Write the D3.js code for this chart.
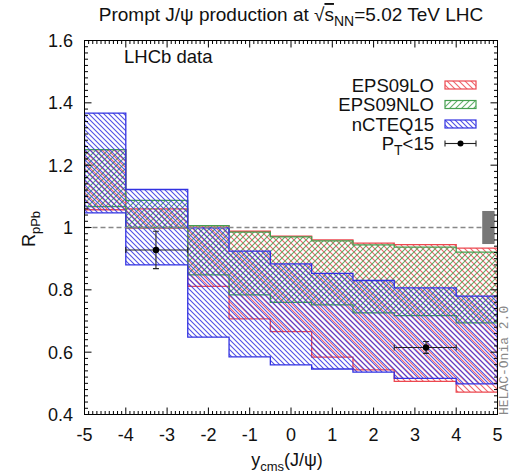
<!DOCTYPE html>
<html><head><meta charset="utf-8">
<script src="https://cdn.jsdelivr.net/npm/d3@7"></script>
<style>
body{margin:0;background:#fff;}
text{font-family:"Liberation Sans",Arial,sans-serif;fill:#111;}
</style></head>
<body><svg id="c" width="510" height="475"></svg>
<script>
// ---- data ----
const binEdges = [-5, -4, -2.5, -1.5, -0.5, 0.5, 1.5, 2.5, 4, 5];
const eps09loHigh  = [1.250, 1.060, 1.005, 0.988, 0.972, 0.960, 0.950, 0.945, 0.934];
const eps09loLow   = [1.057, 0.998, 0.811, 0.707, 0.666, 0.584, 0.543, 0.506, 0.472];
const eps09nloHigh = [1.250, 1.087, 1.006, 0.985, 0.970, 0.957, 0.944, 0.937, 0.921];
const eps09nloLow  = [1.067, 1.000, 0.848, 0.784, 0.760, 0.752, 0.726, 0.717, 0.694];
const ncteqHigh    = [1.367, 1.122, 0.999, 0.924, 0.883, 0.853, 0.830, 0.806, 0.780];
const ncteqLow     = [1.047, 0.880, 0.648, 0.585, 0.559, 0.546, 0.536, 0.516, 0.498];
const dataX   = [-3.27, 3.27];
const dataY   = [0.928, 0.615];
const dataErr = [0.060, 0.019];
const dataXlo = [-4, 2.5];
const dataXhi = [-2.5, 4];
const globalBoxX = [4.63, 4.93];
const globalBoxY = [0.947, 1.053];
const xTicks = [-5, -4, -3, -2, -1, 0, 1, 2, 3, 4, 5];
const yTicks = [0.4, 0.6, 0.8, 1.0, 1.2, 1.4, 1.6];
const seriesNames = ["EPS09LO", "EPS09NLO", "nCTEQ15"];

// ---- layout ----
const L = 84.5, R = 497.5, T = 40.5, B = 414.5;
const svg = d3.select("#c");
const x = d3.scaleLinear().domain([-5, 5]).range([L, R]);
const y = d3.scaleLinear().domain([0.4, 1.6]).range([B, T]);

const cols = {red: "rgb(236,72,80)", green: "rgb(70,160,80)", blue: "rgb(50,50,225)"};

// hatch patterns
const defs = svg.append("defs");
function hatch(id, color, w, dir, sw) {
  const p = defs.append("pattern").attr("id", id).attr("patternUnits", "userSpaceOnUse")
    .attr("width", w).attr("height", w);
  let d;
  if (dir === "back") d = `M-1,-1L${w+1},${w+1}M${w-1},-1L${w+1},1M-1,${w-1}L1,${w+1}`;
  else d = `M-1,${w+1}L${w+1},-1M-1,1L1,-1M${w-1},${w+1}L${w+1},${w-1}`;
  p.append("path").attr("d", d).attr("stroke", color).attr("stroke-width", sw).attr("opacity", 0.85);
}
hatch("hRed", cols.red, 6, "back", 1.1);
hatch("hGreen", cols.green, 6, "fwd", 1.1);
hatch("hBlue", cols.blue, 5, "back", 1.1);

const clip = defs.append("clipPath").attr("id", "plotclip");
clip.append("rect").attr("x", L).attr("y", T).attr("width", R - L).attr("height", B - T);

function stepPts(hi, lo) {
  const pts = [];
  hi.forEach((v, i) => { pts.push({x: binEdges[i], hi: v, lo: lo[i]}); pts.push({x: binEdges[i+1], hi: v, lo: lo[i]}); });
  return pts;
}
const area = d3.area().x(d => x(d.x)).y0(d => y(d.lo)).y1(d => y(d.hi));
const g = svg.append("g").attr("clip-path", "url(#plotclip)");

const bands = [
  {hi: eps09loHigh, lo: eps09loLow, fill: "url(#hRed)", col: cols.red},
  {hi: eps09nloHigh, lo: eps09nloLow, fill: "url(#hGreen)", col: cols.green},
  {hi: ncteqHigh, lo: ncteqLow, fill: "url(#hBlue)", col: cols.blue}
];
bands.forEach(b => {
  g.append("path").datum(stepPts(b.hi, b.lo)).attr("d", area)
    .attr("fill", b.fill).attr("stroke", b.col).attr("stroke-width", 1.3);
});

// dashed line at 1
g.append("line").attr("x1", x(-5)).attr("x2", x(5)).attr("y1", y(1)).attr("y2", y(1))
  .attr("stroke", "#888").attr("stroke-width", 1.3).attr("stroke-dasharray", "5,3");

// global uncertainty box
g.append("rect").attr("x", x(globalBoxX[0])).attr("width", x(globalBoxX[1]) - x(globalBoxX[0]))
  .attr("y", y(globalBoxY[1])).attr("height", y(globalBoxY[0]) - y(globalBoxY[1]))
  .attr("fill", "#777");

// data points
dataX.forEach((dx, i) => {
  const gg = g.append("g").attr("stroke", "#222").attr("stroke-width", 1.1);
  gg.append("line").attr("x1", x(dataXlo[i])).attr("x2", x(dataXhi[i])).attr("y1", y(dataY[i])).attr("y2", y(dataY[i]));
  gg.append("line").attr("x1", x(dataXlo[i])).attr("x2", x(dataXlo[i])).attr("y1", y(dataY[i]) - 3).attr("y2", y(dataY[i]) + 3);
  gg.append("line").attr("x1", x(dataXhi[i])).attr("x2", x(dataXhi[i])).attr("y1", y(dataY[i]) - 3).attr("y2", y(dataY[i]) + 3);
  gg.append("line").attr("x1", x(dx)).attr("x2", x(dx)).attr("y1", y(dataY[i] + dataErr[i])).attr("y2", y(dataY[i] - dataErr[i]));
  gg.append("line").attr("x1", x(dx) - 3).attr("x2", x(dx) + 3).attr("y1", y(dataY[i] + dataErr[i])).attr("y2", y(dataY[i] + dataErr[i]));
  gg.append("line").attr("x1", x(dx) - 3).attr("x2", x(dx) + 3).attr("y1", y(dataY[i] - dataErr[i])).attr("y2", y(dataY[i] - dataErr[i]));
  g.append("circle").attr("cx", x(dx)).attr("cy", y(dataY[i])).attr("r", 3.2).attr("fill", "#000");
});

// frame and ticks (inward, mirrored)
const fr = svg.append("g").attr("stroke", "#000").attr("stroke-width", 1);
fr.append("rect").attr("x", L).attr("y", T).attr("width", R - L).attr("height", B - T).attr("fill", "none");
const xMinor = d3.range(0, 101).map(i => -5 + i * 0.1);
xMinor.forEach(v => {
  const major = Math.abs(v - Math.round(v)) < 1e-6;
  const len = major ? 7 : 3.5;
  fr.append("line").attr("x1", x(v)).attr("x2", x(v)).attr("y1", B).attr("y2", B - len);
  fr.append("line").attr("x1", x(v)).attr("x2", x(v)).attr("y1", T).attr("y2", T + len);
});
const yMinor = d3.range(0, 61).map(i => 0.4 + i * 0.02);
yMinor.forEach((v, i) => {
  const major = i % 10 === 0;
  const len = major ? 7 : 3.5;
  fr.append("line").attr("y1", y(v)).attr("y2", y(v)).attr("x1", L).attr("x2", L + len);
  fr.append("line").attr("y1", y(v)).attr("y2", y(v)).attr("x1", R).attr("x2", R - len);
});

// tick labels
const fs = 18, fsSub = 13;
svg.append("g").selectAll("text").data(xTicks).join("text")
  .attr("x", d => x(d)).attr("y", 441).attr("text-anchor", "middle").attr("font-size", fs)
  .text(d => d < 0 ? "-" + Math.abs(d) : d);
svg.append("g").selectAll("text").data(yTicks).join("text")
  .attr("x", 73).attr("y", d => y(d) + 6.5).attr("text-anchor", "end").attr("font-size", fs)
  .text(d => d === 1 ? "1" : d3.format(".1f")(d));

// axis titles
const xl = svg.append("text").attr("x", 287).attr("y", 466).attr("text-anchor", "middle").attr("font-size", fs);
xl.append("tspan").text("y");
xl.append("tspan").attr("dy", 5).attr("font-size", fsSub).text("cms");
xl.append("tspan").attr("dy", -5).text("(J/ψ)");

const yl = svg.append("text").attr("transform", "translate(35,229) rotate(-90)").attr("text-anchor", "middle").attr("font-size", fs);
yl.append("tspan").text("R");
yl.append("tspan").attr("dy", 5).attr("font-size", fsSub).text("pPb");

// title
const tt = svg.append("text").attr("x", 291).attr("y", 21).attr("text-anchor", "middle").attr("font-size", 19);
tt.append("tspan").text("Prompt J/ψ production at √");
tt.append("tspan").attr("text-decoration", "overline").text("s");
tt.append("tspan").attr("dy", 5).attr("font-size", 14).text("NN");
tt.append("tspan").attr("dy", -5).text("=5.02 TeV LHC");

// LHCb data label
svg.append("text").attr("x", 124).attr("y", 63).attr("font-size", 18.5).text("LHCb data");

// legend
const legY = [85, 104.5, 124, 143.5];
const legFills = ["url(#hRed)", "url(#hGreen)", "url(#hBlue)"];
const legCols = [cols.red, cols.green, cols.blue];
seriesNames.forEach((n, i) => {
  svg.append("text").attr("x", 434).attr("y", legY[i] + 6.5).attr("text-anchor", "end").attr("font-size", 18.5).text(n);
  svg.append("rect").attr("x", 445).attr("y", legY[i] - 4).attr("width", 31).attr("height", 8)
    .attr("fill", legFills[i]).attr("stroke", legCols[i]).attr("stroke-width", 1.2);
});
const lt = svg.append("text").attr("x", 434).attr("y", legY[3] + 6.5).attr("text-anchor", "end").attr("font-size", 18.5);
lt.append("tspan").text("P");
lt.append("tspan").attr("dy", 5).attr("font-size", 14).text("T");
lt.append("tspan").attr("dy", -5).text("<15");
const lg = svg.append("g").attr("stroke", "#222").attr("stroke-width", 1.1);
lg.append("line").attr("x1", 445).attr("x2", 476).attr("y1", legY[3]).attr("y2", legY[3]);
lg.append("line").attr("x1", 445).attr("x2", 445).attr("y1", legY[3] - 3).attr("y2", legY[3] + 3);
lg.append("line").attr("x1", 476).attr("x2", 476).attr("y1", legY[3] - 3).attr("y2", legY[3] + 3);
svg.append("circle").attr("cx", 460.5).attr("cy", legY[3]).attr("r", 3).attr("fill", "#000");

// generator tag
svg.append("text").attr("transform", "translate(507.5,415) rotate(-90)").attr("font-size", 13)
  .style("font-family", "'Liberation Mono','DejaVu Sans Mono',monospace").style("fill", "#888")
  .text("HELAC-Onia 2.0");
</script></body></html>
